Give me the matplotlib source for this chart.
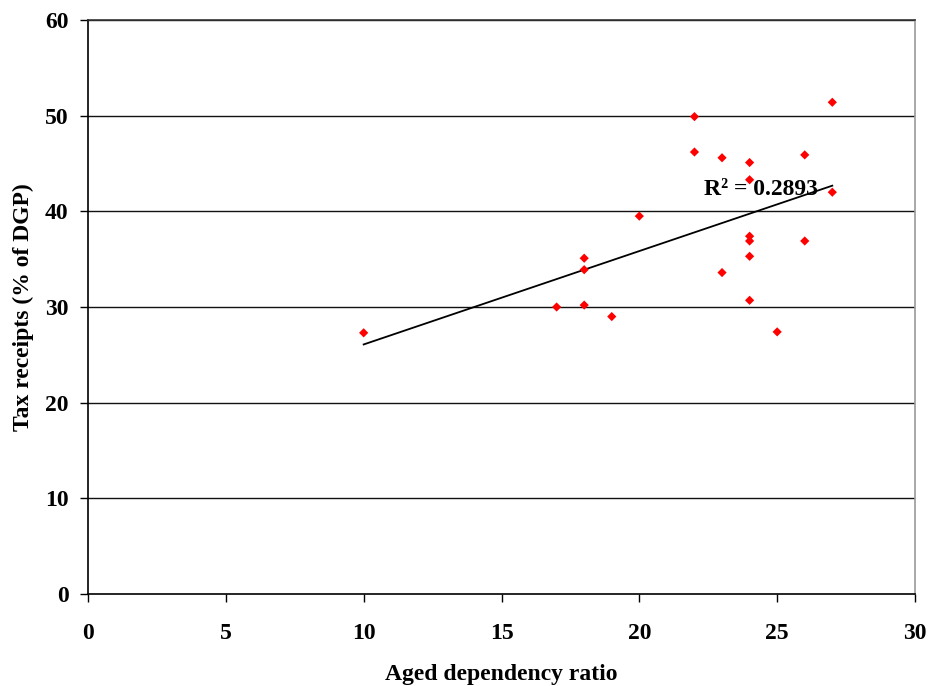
import matplotlib
matplotlib.use("Agg")
import matplotlib.pyplot as plt
import numpy as np

aged_ratio = [10, 17, 18, 18, 18, 19, 20, 22, 22, 23, 23, 24, 24, 24, 24, 24, 24, 25, 26, 26, 27, 27]
tax_receipts = [27.3, 30.0, 35.1, 33.9, 30.2, 29.0, 39.5, 49.9, 46.2, 45.6, 33.6, 45.1, 43.3,
                37.4, 36.9, 35.3, 30.7, 27.4, 45.9, 36.9, 51.4, 42.0]
x_ticks = [0, 5, 10, 15, 20, 25, 30]
y_ticks = [0, 10, 20, 30, 40, 50, 60]
r2_label = 'R² = 0.2893'

plt.rcParams['font.family'] = ['Liberation Serif', 'DejaVu Serif']

x = np.array(aged_ratio, dtype=float)
y = np.array(tax_receipts, dtype=float)
slope, intercept = np.polyfit(x, y, 1)

fig = plt.figure(figsize=(9.3, 6.86), dpi=100)
ax = fig.add_axes([88/930, 1 - 594/686, (915-88)/930, (594-20)/686])

for t in y_ticks[1:]:
    ax.axhline(t, color='#111111', lw=1.0, zorder=1)

xs = np.array([x.min(), x.max()])
ax.plot(xs, slope * xs + intercept, color='black', lw=1.3, zorder=3)
ax.scatter(x, y, marker='D', s=22, color='#ff0000', edgecolors='none', zorder=4)

ax.text(22.35, 42.3, r2_label, fontsize=17, fontweight='bold',
        ha='left', va='center', zorder=2)

ax.set_xlim(0, 30)
ax.set_ylim(0, 60)
ax.set_xticks(x_ticks)
ax.set_yticks(y_ticks)
ax.set_xticklabels([str(v) for v in x_ticks], fontsize=17, fontweight='bold')
ax.set_yticklabels([str(v) for v in y_ticks], fontsize=17, fontweight='bold')
ax.tick_params(axis='both', direction='out', length=6, width=1, color='black')
ax.tick_params(axis='x', pad=15)
ax.tick_params(axis='y', pad=8)

ax.spines['left'].set_color('black')
ax.spines['bottom'].set_color('black')
ax.spines['top'].set_color('#333333')
ax.spines['right'].set_color('#999999')
for s in ax.spines.values():
    s.set_linewidth(1.2)

ax.set_xlabel('Aged dependency ratio', fontsize=17, fontweight='bold', labelpad=14)
ax.set_ylabel('Tax receipts (% of DGP)', fontsize=17, fontweight='bold', labelpad=8)

fig.savefig('out.png', dpi=100)
